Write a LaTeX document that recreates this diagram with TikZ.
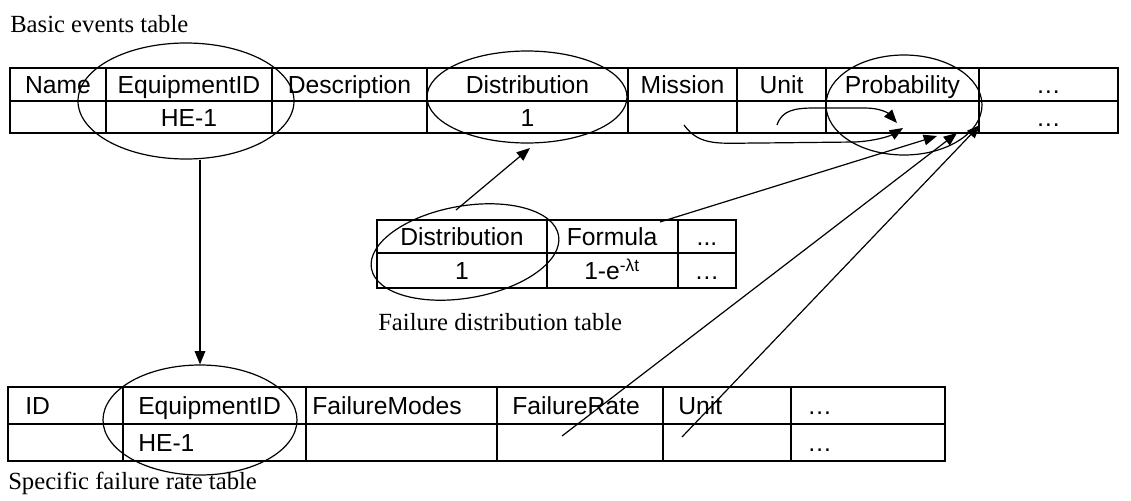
\documentclass[tikz,border=0pt]{standalone}
\usepackage{fontspec}
\setmainfont{Liberation Serif}
\newfontfamily\cellfont{Liberation Sans}
\usetikzlibrary{shapes.geometric, arrows.meta, positioning}

\begin{document}
\begin{tikzpicture}[
    x=0.75pt, y=-0.75pt,
    grid/.style={line width=1.3pt, line cap=rect},
    cell/.style={anchor=base, inner sep=0pt, font=\cellfont\fontsize{18.5}{22}\selectfont},
    lcell/.style={cell, anchor=base west},
    caption/.style={anchor=base west, inner sep=0pt, font=\fontsize{18.5}{22}\selectfont},
    ring/.style={ellipse, draw=black, line width=0.9pt, inner sep=0pt},
    arrow/.style={line width=0.9pt, -{Triangle[length=10pt, width=8pt]}}
]
\useasboundingbox (0,0) rectangle (1131,500);

% Basic events table
\node[caption] (capBasic) at (10,32) {Basic events table};
\draw[grid] (10,68) rectangle (1118,133);
\draw[grid] (10,101) -- (1118,101);
\foreach \x in {106,272,427,628,737,826,979}
    \draw[grid] (\x,68) -- (\x,133);

\node[cell] (bName) at (58,93) {Name};
\node[cell] (bEquip) at (189,93) {EquipmentID};
\node[cell] (bDesc) at (349.5,93) {Description};
\node[cell] (bDist) at (527.5,93) {Distribution};
\node[cell] (bMission) at (682.5,93) {Mission};
\node[cell] (bUnit) at (781.5,93) {Unit};
\node[cell] (bProb) at (902.5,93) {Probability};
\node[cell] (bMore) at (1048.5,93) {…};
\node[cell] (bEquipVal) at (189,126) {HE-1};
\node[cell] (bDistVal) at (527.5,126) {1};
\node[cell] (bMoreVal) at (1048.5,126) {…};

% Failure distribution table
\draw[grid] (377,220) rectangle (736,288);
\draw[grid] (377,253) -- (736,253);
\foreach \x in {547,678}
    \draw[grid] (\x,220) -- (\x,288);

\node[cell] (dDist) at (462,245.5) {Distribution};
\node[cell] (dFormula) at (612,245.5) {Formula};
\node[cell] (dMore) at (707,245.5) {...};
\node[cell] (dDistVal) at (462,279.5) {1};
\node[cell] (dFormulaVal) at (612,279.5) {1-e\textsuperscript{-λt}};
\node[cell] (dMoreVal) at (707,279.5) {…};
\node[caption] (capDist) at (378,330) {Failure distribution table};

% Specific failure rate table
\draw[grid] (8,387) rectangle (945,461);
\draw[grid] (8,424) -- (945,424);
\foreach \x in {123,306,497,663,791}
    \draw[grid] (\x,387) -- (\x,461);

\node[lcell] (sID) at (25,414.5) {ID};
\node[lcell] (sEquip) at (138,414.5) {EquipmentID};
\node[lcell] (sModes) at (312,414.5) {FailureModes};
\node[lcell] (sRate) at (512,414.5) {FailureRate};
\node[lcell] (sUnit) at (678,414.5) {Unit};
\node[lcell] (sMore) at (807,414.5) {…};
\node[lcell] (sEquipVal) at (138,451.5) {HE-1};
\node[lcell] (sMoreVal) at (807,451.5) {…};
\node[caption] (capRate) at (8,489) {Specific failure rate table};

% Key fields
\node[ring, minimum width=162pt, minimum height=87pt] (ringEqA) at (186,101) {};
\node[ring, minimum width=150pt, minimum height=69pt] (ringDistA) at (527,97) {};
\node[ring, minimum width=117pt, minimum height=75pt] (ringProb) at (904,105) {};
\node[ring, minimum width=142.5pt, minimum height=69pt, rotate=10] (ringDistB) at (465,252) {};
\node[ring, minimum width=145.5pt, minimum height=82.5pt] (ringEqB) at (200,420) {};

% Link ends
\coordinate (distStart) at (456,210);
\coordinate (distTip) at (530,148);
\coordinate (misStart) at (684,125);
\coordinate (misTip) at (903,128);
\coordinate (unitStart) at (777,125);
\coordinate (unitTip) at (897,123);
\coordinate (formStart) at (660,222);
\coordinate (formTip) at (937,136);
\coordinate (rateStart) at (562,436);
\coordinate (rateTip) at (957,133);
\coordinate (runitStart) at (682,437);
\coordinate (runitTip) at (980,125);

% Links
\draw[arrow] (ringEqA.south -| ringEqB.north) -- (ringEqB.north);
\draw[arrow] (distStart) -- (distTip);
\draw[arrow] (misStart) .. controls (700,147) and (720,143) .. (760,143) -- (855,142) .. controls (875,141) and (890,136) .. (misTip);
\draw[arrow] (unitStart) .. controls (782,110) and (795,108) .. (815,108) -- (865,108) .. controls (880,108) and (888,113) .. (unitTip);
\draw[arrow] (formStart) -- (formTip);
\draw[arrow] (rateStart) -- (rateTip);
\draw[arrow] (runitStart) -- (runitTip);

\end{tikzpicture}
\end{document}
